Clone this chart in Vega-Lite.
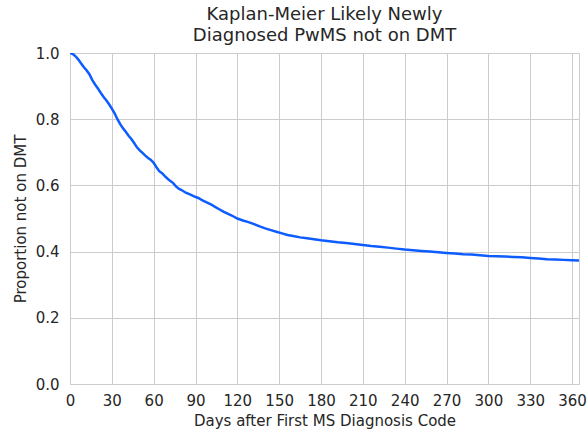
{
  "$schema": "https://vega.github.io/schema/vega-lite/v6.json",
  "width": 509,
  "height": 331,
  "autosize": "none",
  "padding": {"left": 70, "top": 53, "right": 8, "bottom": 46},
  "background": "white",
  "title": {
    "text": ["Kaplan-Meier Likely Newly", "Diagnosed PwMS not on DMT"],
    "font": "DejaVu Sans",
    "fontSize": 18,
    "fontWeight": "normal",
    "color": "#262626",
    "lineHeight": 21,
    "offset": 1
  },
  "config": {
    "view": {"stroke": "#cccccc", "strokeWidth": 1},
    "axis": {
      "labelFont": "DejaVu Sans",
      "titleFont": "DejaVu Sans",
      "labelFontSize": 15,
      "titleFontSize": 15,
      "labelColor": "#262626",
      "titleColor": "#262626",
      "titleFontWeight": "normal",
      "gridColor": "#cccccc",
      "gridWidth": 1,
      "domain": false,
      "ticks": false
    }
  },
  "data": {
    "values": [
      {"day": 0, "p": 1.0}, {"day": 2, "p": 0.997}, {"day": 4, "p": 0.99}, {"day": 6, "p": 0.98},
      {"day": 8, "p": 0.968}, {"day": 10, "p": 0.957}, {"day": 12, "p": 0.947}, {"day": 14, "p": 0.935},
      {"day": 16, "p": 0.918}, {"day": 18, "p": 0.905}, {"day": 20, "p": 0.893}, {"day": 22, "p": 0.88},
      {"day": 24, "p": 0.868}, {"day": 26, "p": 0.857}, {"day": 28, "p": 0.845}, {"day": 30, "p": 0.832},
      {"day": 32, "p": 0.818}, {"day": 34, "p": 0.8}, {"day": 36, "p": 0.785}, {"day": 38, "p": 0.773},
      {"day": 40, "p": 0.762}, {"day": 42, "p": 0.75}, {"day": 44, "p": 0.74}, {"day": 46, "p": 0.728},
      {"day": 48, "p": 0.715}, {"day": 50, "p": 0.706}, {"day": 52, "p": 0.698}, {"day": 54, "p": 0.69},
      {"day": 56, "p": 0.683}, {"day": 58, "p": 0.677}, {"day": 60, "p": 0.668}, {"day": 62, "p": 0.655},
      {"day": 64, "p": 0.643}, {"day": 66, "p": 0.637}, {"day": 68, "p": 0.628}, {"day": 70, "p": 0.62},
      {"day": 72, "p": 0.613}, {"day": 74, "p": 0.607}, {"day": 76, "p": 0.597}, {"day": 78, "p": 0.59},
      {"day": 80, "p": 0.586}, {"day": 83, "p": 0.578}, {"day": 86, "p": 0.573}, {"day": 89, "p": 0.567},
      {"day": 92, "p": 0.562}, {"day": 95, "p": 0.555}, {"day": 98, "p": 0.549}, {"day": 101, "p": 0.543},
      {"day": 104, "p": 0.535}, {"day": 107, "p": 0.528}, {"day": 110, "p": 0.521}, {"day": 113, "p": 0.515},
      {"day": 116, "p": 0.509}, {"day": 120, "p": 0.5}, {"day": 124, "p": 0.494}, {"day": 128, "p": 0.489},
      {"day": 132, "p": 0.483}, {"day": 136, "p": 0.476}, {"day": 140, "p": 0.47}, {"day": 144, "p": 0.465},
      {"day": 148, "p": 0.46}, {"day": 152, "p": 0.455}, {"day": 156, "p": 0.45}, {"day": 160, "p": 0.447},
      {"day": 165, "p": 0.443}, {"day": 170, "p": 0.44}, {"day": 175, "p": 0.437}, {"day": 180, "p": 0.434},
      {"day": 186, "p": 0.431}, {"day": 192, "p": 0.428}, {"day": 198, "p": 0.426}, {"day": 204, "p": 0.423},
      {"day": 210, "p": 0.42}, {"day": 216, "p": 0.417}, {"day": 222, "p": 0.415}, {"day": 228, "p": 0.412},
      {"day": 234, "p": 0.409}, {"day": 240, "p": 0.406}, {"day": 246, "p": 0.404}, {"day": 252, "p": 0.402},
      {"day": 258, "p": 0.4}, {"day": 264, "p": 0.398}, {"day": 270, "p": 0.396}, {"day": 276, "p": 0.394},
      {"day": 282, "p": 0.392}, {"day": 288, "p": 0.391}, {"day": 294, "p": 0.389}, {"day": 300, "p": 0.387},
      {"day": 306, "p": 0.386}, {"day": 312, "p": 0.385}, {"day": 318, "p": 0.384}, {"day": 324, "p": 0.383},
      {"day": 330, "p": 0.381}, {"day": 336, "p": 0.379}, {"day": 342, "p": 0.377}, {"day": 348, "p": 0.376},
      {"day": 354, "p": 0.375}, {"day": 360, "p": 0.374}, {"day": 365, "p": 0.373}
    ]
  },
  "mark": {"type": "line", "interpolate": "linear", "color": "#0d5cff", "strokeWidth": 2.5, "clip": true},
  "encoding": {
    "x": {
      "field": "day",
      "type": "quantitative",
      "scale": {"domain": [0, 365], "nice": false, "zero": false},
      "axis": {"values": [0, 30, 60, 90, 120, 150, 180, 210, 240, 270, 300, 330, 360], "title": "Days after First MS Diagnosis Code", "labelPadding": 9, "titlePadding": 5, "labelFlush": false}
    },
    "y": {
      "field": "p",
      "type": "quantitative",
      "scale": {"domain": [0, 1], "nice": false},
      "axis": {"values": [0, 0.2, 0.4, 0.6, 0.8, 1.0], "format": ".1f", "title": "Proportion not on DMT", "labelPadding": 11, "titlePadding": 7, "labelFlush": false}
    }
  }
}
